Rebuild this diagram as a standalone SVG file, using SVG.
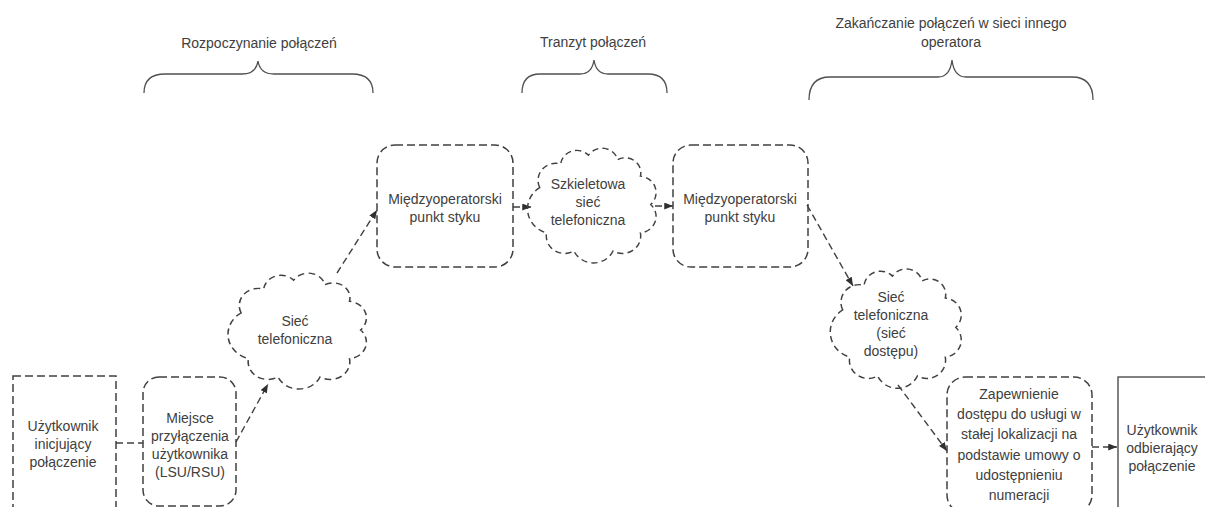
<svg xmlns="http://www.w3.org/2000/svg" width="1205" height="507" viewBox="0 0 1205 507">
<style>
  text { font-family: "Liberation Sans", Arial, sans-serif; font-size: 14px; fill: #404040; text-anchor: middle; }
  .box { fill: none; stroke: #404040; stroke-width: 1.5; stroke-dasharray: 8 4; }
  .solid { fill: none; stroke: #404040; stroke-width: 1.3; }
  .cloud { fill: none; stroke: #404040; stroke-width: 1.4; stroke-dasharray: 6 4; }
  .brace { fill: none; stroke: #505050; stroke-width: 1.3; }
  .conn { fill: none; stroke: #404040; stroke-width: 1.4; stroke-dasharray: 7 4; }
</style>
<defs>
  <marker id="arr" viewBox="0 0 10 8" refX="10" refY="4" markerWidth="9" markerHeight="7" markerUnits="userSpaceOnUse" orient="auto">
    <path d="M0,0 L10,4 L0,8 Z" fill="#303030"/>
  </marker>
  <path id="cloudShape" d="M -51.7,-17.1 A 17.2 17.2 0 0 1 -31.5,-41 A 15.5 15.5 0 0 1 -4.8,-49.8 A 15.6 15.6 0 0 1 23.3,-45.3 A 15 15 0 0 1 45.1,-28.7 A 16.7 16.7 0 0 1 55,0 A 16.7 16.7 0 0 1 45.1,28.7 A 17.6 17.6 0 0 1 18.8,47 A 20.7 20.7 0 0 1 -18.8,47 A 17.6 17.6 0 0 1 -45.1,28.7 A 25.4 25.4 0 0 1 -51.7,-17.1 Z"/>
</defs>
<rect width="1205" height="507" fill="#ffffff"/>

<g id="braces">
  <g id="phase-start">
    <path class="brace" d="M144,93 Q144,74 165,74 L242,74 Q256,74 258,61 Q260,74 274,74 L352,74 Q373,74 373,93"/>
    <text x="259" y="48">Rozpoczynanie połączeń</text>
  </g>
  <g id="phase-transit">
    <path class="brace" d="M522,93 Q522,74 540,74 L580,74 Q592,74 594,60 Q596,74 608,74 L648,74 Q667,74 667,93"/>
    <text x="593" y="47">Tranzyt połączeń</text>
  </g>
  <g id="phase-end">
    <path class="brace" d="M809,100 Q809,77 830,77 L938,77 Q950,77 952,60 Q954,77 966,77 L1072,77 Q1093,77 1093,100"/>
    <text x="951" y="28">Zakańczanie połączeń w sieci innego</text>
    <text x="951" y="47">operatora</text>
  </g>
</g>

<g id="connectors">
  <path class="conn" d="M116,443 L143,443"/>
  <path class="conn" d="M236,442 L268,384" marker-end="url(#arr)"/>
  <path class="conn" d="M337,273 L377,210" marker-end="url(#arr)"/>
  <path class="conn" d="M513,207 L531,207" marker-end="url(#arr)"/>
  <path class="conn" d="M655,206 L673,206" marker-end="url(#arr)"/>
  <path class="conn" d="M807,205 L853,286" marker-end="url(#arr)"/>
  <path class="conn" d="M898,385 L947,451" marker-end="url(#arr)"/>
  <path class="conn" d="M1092,447 L1117,447" marker-end="url(#arr)"/>
</g>

<g id="user-start">
  <rect class="box" x="13" y="376" width="103" height="145"/>
  <text x="63" y="431">Użytkownik</text>
  <text x="63" y="449">inicjujący</text>
  <text x="63" y="467">połączenie</text>
</g>

<g id="access-point">
  <rect class="box" x="143" y="377" width="93" height="129" rx="16"/>
  <text x="190" y="423">Miejsce</text>
  <text x="190" y="441">przyłączenia</text>
  <text x="190" y="459">użytkownika</text>
  <text x="190" y="477">(LSU/RSU)</text>
</g>

<g id="cloud-phone">
  <use href="#cloudShape" class="cloud" transform="translate(299,330) scale(1.12,1)"/>
  <text x="295" y="326">Sieć</text>
  <text x="295" y="344">telefoniczna</text>
</g>

<g id="interconnect-1">
  <rect class="box" x="377" y="145" width="136" height="122" rx="18"/>
  <text x="445" y="204">Międzyoperatorski</text>
  <text x="445" y="222">punkt styku</text>
</g>

<g id="cloud-backbone">
  <use href="#cloudShape" class="cloud" transform="translate(593.5,204.5) scale(1.04,0.99)"/>
  <text x="588" y="189">Szkieletowa</text>
  <text x="588" y="207">sieć</text>
  <text x="588" y="225">telefoniczna</text>
</g>

<g id="interconnect-2">
  <rect class="box" x="673" y="145" width="135" height="122" rx="18"/>
  <text x="740" y="204">Międzyoperatorski</text>
  <text x="740" y="222">punkt styku</text>
</g>

<g id="cloud-access">
  <use href="#cloudShape" class="cloud" transform="translate(897.5,327.5) scale(1.06,1.03)"/>
  <text x="891" y="302">Sieć</text>
  <text x="891" y="320">telefoniczna</text>
  <text x="891" y="338">(sieć</text>
  <text x="891" y="356">dostępu)</text>
</g>

<g id="fixed-access">
  <rect class="box" x="947" y="377" width="145" height="136" rx="18"/>
  <text x="1019" y="399">Zapewnienie</text>
  <text x="1019" y="419">dostępu do usługi w</text>
  <text x="1019" y="439">stałej lokalizacji na</text>
  <text x="1019" y="460">podstawie umowy o</text>
  <text x="1019" y="480">udostępnieniu</text>
  <text x="1019" y="500">numeracji</text>
</g>

<g id="user-end">
  <rect class="solid" x="1118" y="377" width="120" height="145"/>
  <text x="1162" y="435">Użytkownik</text>
  <text x="1162" y="453">odbierający</text>
  <text x="1162" y="471">połączenie</text>
</g>
</svg>
